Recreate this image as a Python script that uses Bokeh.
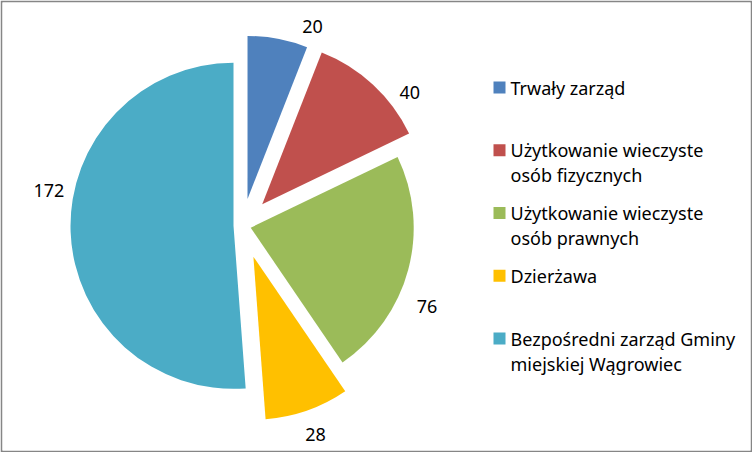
import math
from bokeh.plotting import figure
from bokeh.models import Range1d
from bokeh.core.properties import value
from bokeh.embed import file_html
from bokeh.resources import INLINE

# ---- data ----
categories = [
    "Trwały zarząd",
    "Użytkowanie wieczyste\nosób fizycznych",
    "Użytkowanie wieczyste\nosób prawnych",
    "Dzierżawa",
    "Bezpośredni zarząd Gminy\nmiejskiej Wągrowiec",
]
values = [20, 40, 76, 28, 172]
colors = ["#4F81BD", "#C0504D", "#9BBB59", "#FFC000", "#4BACC6"]

# ---- style / layout ----
W, H = 752, 452
B = 2
CX, CY = 242, 225          # pie centre (screen px)
R = 163
explode = [27, 29, 8.5, 33, 9]      # per-slice explosion, px
label_shift = [10, 10, 9, 0, 13]    # label angle nudges, degrees
label_dist = [184, 185, 193, 188, 188]
FONT = value("Noto Sans")
FS = "18px"
TXT_FIX = 7   # baseline correction for svg text

p = figure(width=W, height=H, output_backend="svg", toolbar_location=None,
           x_range=Range1d(B, W - B), y_range=Range1d(B, H - B),
           min_border_left=B, min_border_right=B, min_border_top=B, min_border_bottom=B)
p.axis.visible = False
p.grid.visible = False
p.outline_line_color = None
p.border_fill_color = "#868686"
p.background_fill_color = "white"

def Y(ys):
    return H - ys

total = sum(values)
cum = 0.0
wx, wy, sa, ea, lx, ly, lt = [], [], [], [], [], [], []
for i, v in enumerate(values):
    t1 = cum / total * 2 * math.pi
    cum += v
    t2 = cum / total * 2 * math.pi
    tm = (t1 + t2) / 2
    ax = CX + explode[i] * math.sin(tm)
    ay = CY - explode[i] * math.cos(tm)
    wx.append(ax)
    wy.append(Y(ay))
    sa.append(math.pi / 2 - t2)
    ea.append(math.pi / 2 - t1)
    tl = tm + math.radians(label_shift[i])
    lx.append(ax + label_dist[i] * math.sin(tl))
    ly.append(Y(ay - label_dist[i] * math.cos(tl) + 7 - TXT_FIX))
    lt.append(str(v))

p.wedge(x=wx, y=wy, radius=R, start_angle=sa, end_angle=ea,
        fill_color=colors, line_color=None)

p.text(x=lx, y=ly, text=lt, text_font=FONT, text_font_size=FS,
       text_align="center", text_baseline="alphabetic", text_color="#000000")

# legend
LX, LY0, LSTEP, LINE = 510, 94, 62.75, 25
sqx, sqy, tx, ty, tt = [], [], [], [], []
for i, c in enumerate(categories):
    base = LY0 + i * LSTEP
    sqx.append(499)
    sqy.append(Y(base - 7))
    for j, line in enumerate(c.split("\n")):
        tx.append(LX)
        ty.append(Y(base + j * LINE - TXT_FIX))
        tt.append(line)

p.rect(x=sqx, y=sqy, width=12, height=12, fill_color=colors, line_color=None)
p.text(x=tx, y=ty, text=tt, text_font=FONT, text_font_size=FS,
       text_align="left", text_baseline="alphabetic", text_color="#000000")

open("out.html", "w").write(file_html(p, INLINE))
